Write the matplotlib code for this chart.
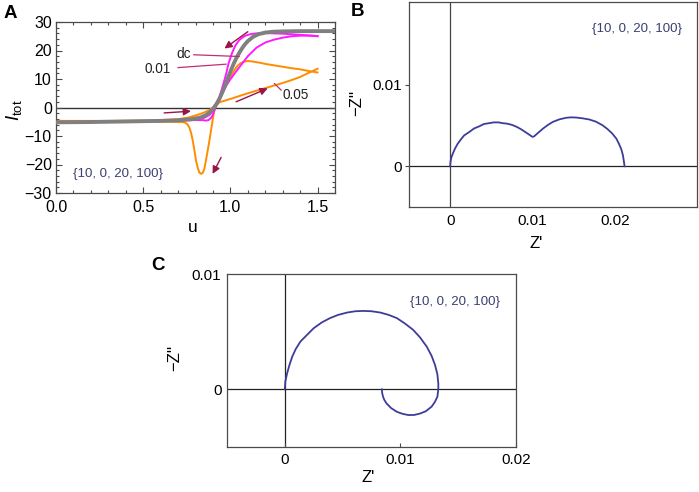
"""
Three-panel figure: current-voltage hysteresis (A) and two impedance
spectra in the complex plane (B, C).
"""

import matplotlib

matplotlib.use("Agg")
import matplotlib.pyplot as plt
from matplotlib.ticker import MultipleLocator

# ---------------- data, panel A ----------------
dc_u = [0, 0.2, 0.4, 0.6, 0.7, 0.78, 0.83, 0.86, 0.88, 0.90, 0.92, 0.94, 0.96,
        0.98, 1.0, 1.02, 1.04, 1.06, 1.08, 1.10, 1.13, 1.16, 1.2, 1.25, 1.3,
        1.4, 1.5, 1.6]
dc_I = [-5.2, -5.1, -4.9, -4.7, -4.5, -4.1, -3.5, -2.7, -1.8, -0.5, 1.2, 3.4,
        6.2, 9.4, 12.6, 15.5, 18.0, 20.1, 21.9, 23.3, 24.8, 25.7, 26.3, 26.6,
        26.7, 26.8, 26.8, 26.8]

# scan rate 0.01, forward and backward sweep
m_fwd_u = [0, 0.3, 0.5, 0.7, 0.8, 0.85, 0.88, 0.9, 0.92, 0.94, 0.96, 0.98, 1.0,
           1.03, 1.06, 1.1, 1.15, 1.2, 1.25, 1.3, 1.35, 1.4, 1.45, 1.5]
m_fwd_I = [-5.1, -5.0, -4.8, -4.5, -4.2, -3.6, -2.6, -1.2, 0.9, 3.4, 5.8, 8.0,
           9.9, 12.4, 14.8, 18.0, 21.0, 22.8, 23.8, 24.5, 25.0, 25.2, 25.2, 25.1]
m_bwd_u = [1.5, 1.45, 1.4, 1.35, 1.3, 1.25, 1.2, 1.15, 1.12, 1.09, 1.07, 1.05,
           1.03, 1.01, 0.99, 0.975, 0.96, 0.945, 0.93, 0.915, 0.9, 0.89, 0.875,
           0.86, 0.84, 0.8, 0.7, 0.5, 0.3, 0]
m_bwd_I = [25.0, 25.3, 25.5, 25.7, 25.9, 26.0, 26.1, 26.0, 25.8, 25.3, 24.6,
           23.6, 21.9, 19.2, 15.6, 11.6, 8.3, 5.2, 2.5, 0.0, -2.4, -3.6, -4.4,
           -4.6, -4.4, -4.4, -4.6, -4.8, -5.0, -5.1]

# scan rate 0.05, forward and backward sweep
o_fwd_u = [0, 0.3, 0.5, 0.6, 0.7, 0.76, 0.8, 0.84, 0.88, 0.91, 0.94, 1.0, 1.05,
           1.1, 1.15, 1.2, 1.25, 1.3, 1.35, 1.4, 1.45, 1.5]
o_fwd_I = [-4.7, -4.7, -4.6, -4.4, -4.1, -3.5, -2.8, -2.0, -0.9, 0.4, 1.9, 3.0,
           4.0, 5.0, 5.9, 6.8, 7.7, 8.6, 9.6, 10.7, 12.2, 13.6]
o_bwd_u = [1.5, 1.45, 1.4, 1.35, 1.3, 1.25, 1.2, 1.17, 1.14, 1.12, 1.1, 1.08,
           1.06, 1.04, 1.02, 1.0, 0.98, 0.96, 0.94, 0.922, 0.908, 0.898, 0.889,
           0.88, 0.87, 0.86, 0.851, 0.842, 0.832, 0.822, 0.812, 0.803, 0.795,
           0.784, 0.775, 0.764, 0.752, 0.74, 0.72, 0.6, 0.4, 0.2, 0]
o_bwd_I = [12.3, 12.8, 13.4, 13.8, 14.3, 14.8, 15.3, 15.7, 16.0, 16.2, 16.3,
           16.1, 15.6, 14.6, 12.8, 10.8, 8.5, 5.9, 3.0, 1.0, -1.0, -4.6, -8.0,
           -11.5, -15.1, -18.5, -21.5, -22.9, -23.3, -22.8, -21.0, -18.6, -15.5,
           -11.5, -9.0, -6.9, -5.8, -5.3, -5.1, -5.0, -4.9, -4.8, -4.7]

# ---------------- data, panel B ----------------
b_re = [0, 0.00005, 0.00015, 0.00033, 0.0006, 0.00093, 0.0013, 0.0017, 0.0023,
        0.0029, 0.0035, 0.0041, 0.0047, 0.0053, 0.0059, 0.0064, 0.0069, 0.0075,
        0.0081, 0.0086, 0.0091, 0.0096, 0.0100, 0.0102, 0.0105, 0.0109, 0.0113,
        0.0119, 0.0125, 0.0133, 0.0141, 0.0147, 0.0153, 0.0161, 0.0169, 0.0177,
        0.0185, 0.0191, 0.0197, 0.0202, 0.0205, 0.0208, 0.0210, 0.0211, 0.0212]
b_im = [0, 0.0006, 0.0011, 0.00157, 0.0022, 0.0028, 0.0033, 0.0038, 0.0042,
        0.00465, 0.0049, 0.0052, 0.0053, 0.0054, 0.0054, 0.0053, 0.00525,
        0.0051, 0.00485, 0.00457, 0.00424, 0.0039, 0.00362, 0.00368, 0.00395,
        0.0043, 0.00465, 0.0051, 0.00547, 0.00578, 0.00597, 0.00602, 0.0060,
        0.0059, 0.00576, 0.0055, 0.00506, 0.0046, 0.00403, 0.0034, 0.0028,
        0.0021, 0.00136, 0.0007, 0]

# ---------------- data, panel C ----------------
c_re = [0, 0.00005, 0.0002, 0.0004, 0.00064, 0.00095, 0.00135, 0.0019, 0.0025,
        0.0032, 0.0039, 0.0046, 0.0054, 0.0061, 0.0068, 0.0075, 0.00825, 0.009,
        0.0097, 0.0104, 0.0111, 0.0117, 0.01228, 0.0127, 0.0130, 0.0132,
        0.01328, 0.01328, 0.0132, 0.01298, 0.0127, 0.0122, 0.0117, 0.0112,
        0.0107, 0.0102, 0.0097, 0.0092, 0.0088, 0.0086, 0.0085, 0.00842, 0.0084]
c_im = [0, 0.0007, 0.00139, 0.0021, 0.00283, 0.0035, 0.00414, 0.0047, 0.0053,
        0.0058, 0.00617, 0.00645, 0.00666, 0.00677, 0.0068, 0.00677, 0.00666,
        0.00645, 0.00617, 0.0057, 0.00516, 0.0045, 0.0037, 0.0029, 0.0021,
        0.0013, 0.00052, 0.0, -0.00064, -0.0011, -0.0015, -0.0019, -0.0021,
        -0.00222, -0.00223, -0.00213, -0.00195, -0.00163, -0.00122, -0.0009,
        -0.00064, -0.0003, 0]

param_label = "{10, 0, 20, 100}"

W, H = 699, 492
FRAME = "#4a4a4a"
ARROW = "#9a1448"
POINTER = "#c0306e"
CURVE = "#3d3d99"
PARAM = "#3a4070"

plt.rcParams.update({
    "font.family": ["Liberation Sans", "DejaVu Sans"],
    "font.size": 11,
    "mathtext.fontset": "custom",
    "mathtext.rm": "Liberation Sans",
    "mathtext.it": "Liberation Sans:italic",
    "axes.edgecolor": FRAME,
    "axes.linewidth": 0.9,
    "lines.solid_joinstyle": "round",
})


def px_axes(fig, left, top, right, bottom):
    """Add axes from pixel box of the reference picture."""
    return fig.add_axes([left / W, 1 - bottom / H, (right - left) / W,
                         (bottom - top) / H])


def fig_text(fig, x, y, s, **kw):
    fig.text(x / W, 1 - y / H, s, ha="center", va="center", **kw)


fig = plt.figure(figsize=(W / 100, H / 100), dpi=100)

# ---------------- panel A ----------------
ax = px_axes(fig, 56, 22, 335, 193)
ax.axhline(0, color="#333333", lw=1.0, zorder=1)
ax.plot(o_fwd_u, o_fwd_I, color="#ff8c00", lw=1.4, zorder=2)
ax.plot(o_bwd_u, o_bwd_I, color="#ff8c00", lw=1.4, zorder=2)
ax.plot(m_fwd_u, m_fwd_I, color="#ff1aff", lw=1.4, zorder=3)
ax.plot(m_bwd_u, m_bwd_I, color="#ff1aff", lw=1.4, zorder=3)
ax.plot(dc_u, dc_I, color="#808080", lw=2.8, zorder=4)
ax.set_xlim(0, 1.6)
ax.set_ylim(-30, 30)
ax.xaxis.set_major_locator(MultipleLocator(0.5))
ax.xaxis.set_minor_locator(MultipleLocator(0.1))
ax.yaxis.set_major_locator(MultipleLocator(10))
ax.yaxis.set_minor_locator(MultipleLocator(2))
ax.xaxis.set_major_formatter(lambda v, p: f"{v:.1f}")
ax.tick_params(which="both", direction="in", top=True, right=True,
               color=FRAME, width=0.8)
ax.tick_params(which="major", length=4.5, labelsize=11.5)
ax.tick_params(which="minor", length=2.3)
ax.tick_params(axis="x", pad=5)
ax.tick_params(axis="y", pad=3)

# sweep direction arrows
arrows = [((1.10, 26.6), (0.966, 20.7)),
          ((0.62, -1.9), (0.774, -1.3)),
          ((1.033, 2.0), (1.214, 6.7)),
          ((0.947, -17.5), (0.898, -23.3))]
for start, end in arrows:
    ax.annotate("", xy=end, xytext=start, zorder=6,
                arrowprops=dict(arrowstyle="-|>", color=ARROW, lw=1.0,
                                mutation_scale=11, shrinkA=0, shrinkB=0))

# curve labels with pointer lines
pointers = [((0.79, 18.5), (1.05, 17.9)),
            ((0.70, 14.0), (0.975, 15.2)),
            ((1.253, 8.4), (1.291, 6.1))]
for start, end in pointers:
    ax.plot([start[0], end[0]], [start[1], end[1]], color=POINTER, lw=0.9,
            zorder=5)
ax.text(0.73, 18.8, "dc", fontsize=9.8, ha="center", va="center", color="#222")
ax.text(0.582, 13.4, "0.01", fontsize=9.8, ha="center", va="center",
        color="#222")
ax.text(1.377, 4.4, "0.05", fontsize=9.8, ha="center", va="center",
        color="#222")
ax.text(0.355, -23.5, param_label, fontsize=9.5, ha="center", va="center",
        color=PARAM)

fig_text(fig, 193, 228, "u", fontsize=12.5)
fig_text(fig, 14, 110, r"$I_{\mathrm{tot}}$", fontsize=13.5, rotation=90)
fig_text(fig, 10, 13, "A", fontsize=13.5, fontweight="bold")

# ---------------- panel B ----------------
ax = px_axes(fig, 409, 2, 697, 207)
ax.axhline(0, color="#222222", lw=0.9, zorder=1)
ax.axvline(0, color="#444444", lw=0.9, zorder=1)
ax.plot(b_re, b_im, color=CURVE, lw=1.3, zorder=3)
ax.set_xlim(-0.005, 0.03)
ax.set_ylim(-0.005, 0.0202)
ax.set_xticks([0, 0.01, 0.02], ["0", "0.01", "0.02"])
ax.set_yticks([0, 0.01], ["0", "0.01"])
ax.tick_params(axis="x", direction="in", length=0, pad=5, labelsize=11)
ax.tick_params(axis="y", direction="out", length=3, pad=2, color=FRAME,
               labelsize=11)
ax.text(0.79, 0.87, param_label, transform=ax.transAxes, fontsize=9.5,
        ha="center", va="center", color=PARAM)
fig_text(fig, 536, 244, "Z'", fontsize=12)
fig_text(fig, 357, 103, "\u2212Z''", fontsize=12, rotation=90)
fig_text(fig, 358, 12, "B", fontsize=13.5, fontweight="bold")

# ---------------- panel C ----------------
ax = px_axes(fig, 227, 274, 516, 447)
ax.axhline(0, color="#222222", lw=0.9, zorder=1)
ax.axvline(0, color="#222222", lw=0.9, zorder=1)
ax.plot(c_re, c_im, color=CURVE, lw=1.3, zorder=3)
ax.set_xlim(-0.005, 0.02)
ax.set_ylim(-0.005, 0.01)
ax.set_xticks([0, 0.01, 0.02], ["0", "0.01", "0.02"])
ax.set_yticks([0, 0.01], ["0", "0.01"])
ax.tick_params(axis="x", direction="in", length=3, pad=4.5, color=FRAME,
               labelsize=11)
ax.tick_params(axis="y", direction="in", length=0, pad=4, labelsize=11)
ax.text(0.79, 0.84, param_label, transform=ax.transAxes, fontsize=9.5,
        ha="center", va="center", color=PARAM)
fig_text(fig, 368, 477, "Z'", fontsize=12)
fig_text(fig, 175, 358, "\u2212Z''", fontsize=12, rotation=90)
fig_text(fig, 158, 266, "C", fontsize=13.5, fontweight="bold")

fig.savefig("out.png", dpi=100)
